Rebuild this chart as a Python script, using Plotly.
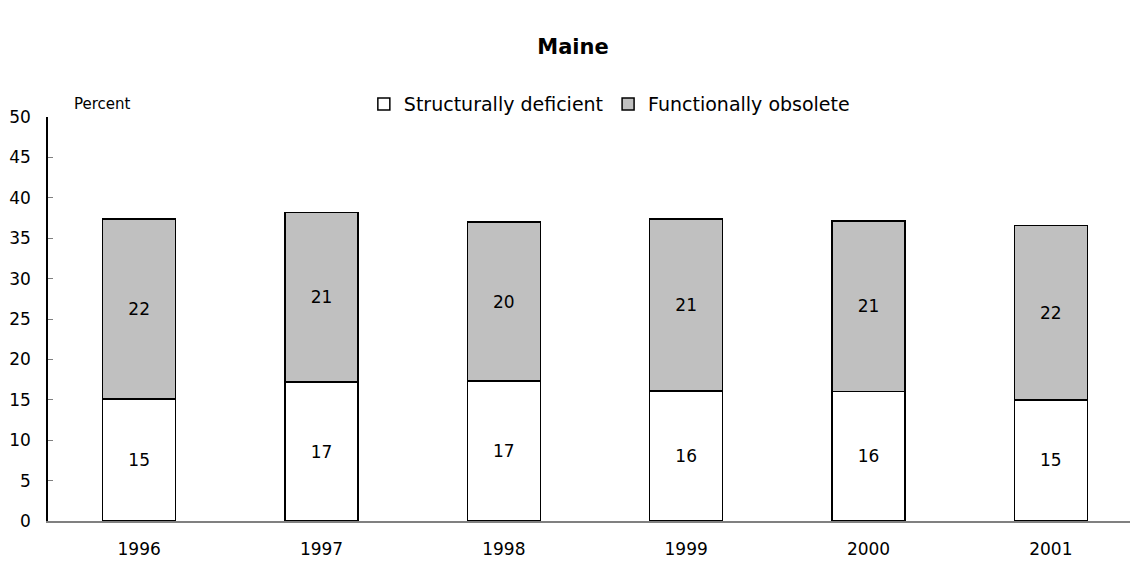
import plotly.graph_objects as go

years = ["1996", "1997", "1998", "1999", "2000", "2001"]
structurally_deficient = [15.1, 17.2, 17.3, 16.1, 16.0, 15.0]
functionally_obsolete = [22.3, 21.0, 19.7, 21.3, 21.1, 21.6]

FONT = "'DejaVu Sans', sans-serif"

fig = go.Figure()
fig.add_trace(go.Bar(
    x=years,
    y=structurally_deficient,
    name="Structurally deficient",
    marker=dict(color="white", line=dict(color="black", width=1.5)),
    texttemplate="%{y:.0f}",
    textposition="inside",
    insidetextanchor="middle",
    textfont=dict(size=17, color="black"),
))
fig.add_trace(go.Bar(
    x=years,
    y=functionally_obsolete,
    name="Functionally obsolete",
    marker=dict(color="#c0c0c0", line=dict(color="black", width=1.5)),
    texttemplate="%{y:.0f}",
    textposition="inside",
    insidetextanchor="middle",
    textfont=dict(size=17, color="black"),
))

# page body has an 8px margin, so the figure is sized to end at the window edge
fig.update_layout(
    barmode="stack",
    bargap=0.6,
    width=1130,
    height=554,
    plot_bgcolor="white",
    paper_bgcolor="white",
    font=dict(family=FONT, size=16, color="black"),
    margin=dict(l=40, r=0, t=109, b=41),
    title=dict(text="<b>Maine</b>", x=0.5, xanchor="center", y=0.930, yanchor="middle",
               font=dict(size=21, family=FONT)),
    legend=dict(orientation="h", x=0.515, xanchor="center", y=1.032, yanchor="middle",
                font=dict(size=19), bgcolor="rgba(0,0,0,0)", traceorder="normal",
                itemwidth=30),
    showlegend=True,
    uniformtext=dict(mode="show", minsize=17),
)
fig.update_xaxes(
    range=[-0.5, 5.478],
    showline=True, linecolor="#808080", linewidth=1.5,
    ticks="", showgrid=False,
    tickfont=dict(size=17),
    ticklabelstandoff=12,
)
fig.update_yaxes(
    range=[0, 50],
    dtick=5,
    showline=True, linecolor="black", linewidth=1.5,
    ticks="inside", ticklen=5, tickcolor="#808080",
    showgrid=False, zeroline=False,
    tickfont=dict(size=17),
    ticklabelstandoff=12,
)
fig.add_annotation(
    text="Percent", xref="paper", yref="paper", x=0.022, y=1.032,
    xanchor="left", yanchor="middle", showarrow=False, font=dict(size=15),
)

fig.write_html("out.html")
